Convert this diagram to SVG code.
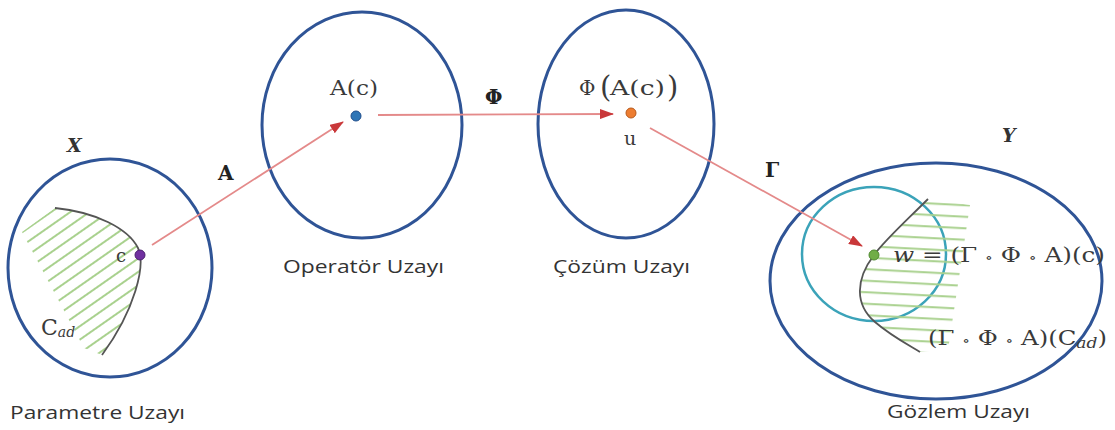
<svg xmlns="http://www.w3.org/2000/svg" width="1115" height="430" viewBox="0 0 1115 430">
<style>
.space{fill:none;stroke:#2F5496;stroke-width:3}
.curve{fill:none;stroke:#555;stroke-width:1.8}
.arr{fill:none;stroke:#E48A8A;stroke-width:1.8}
.lbl{font-family:"Open Sans","Liberation Sans",sans-serif;font-size:18px;fill:#333}
.m{font-family:"DejaVu Serif","Liberation Serif",serif;font-size:20px;fill:#3a3a3a}
.mb{font-family:"DejaVu Serif","Liberation Serif",serif;font-size:20px;font-weight:bold;fill:#222}
.mi{font-family:"DejaVu Serif","Liberation Serif",serif;font-size:19px;font-style:italic;font-weight:bold;fill:#333}
.o{font-size:13px}
.sub{font-style:italic;font-size:14px}
.big{font-size:29px}
</style>
<defs>
<marker id="ah" viewBox="0 0 14 10" refX="13" refY="5" markerWidth="14" markerHeight="10" markerUnits="userSpaceOnUse" orient="auto">
<path d="M0,0 L14,5 L0,10 Z" fill="#C9383A"/>
</marker>
<pattern id="hx" width="20" height="11" patternUnits="userSpaceOnUse" patternTransform="rotate(-35)">
<line x1="0" y1="5" x2="20" y2="5" stroke="#A9D18E" stroke-width="2"/>
</pattern>
<pattern id="hy" width="20" height="11.5" patternUnits="userSpaceOnUse" patternTransform="rotate(3)">
<line x1="0" y1="5" x2="20" y2="5" stroke="#A9D18E" stroke-width="2"/>
</pattern>
</defs>

<g id="param">
<ellipse class="space" cx="110" cy="268" rx="102" ry="109"/>
<path d="M55,208 C95,212 128,228 138,248 C146,265 135,310 102,355 L84,348 L22,232 Z" fill="url(#hx)"/>
<path class="curve" d="M55,208 C95,212 128,228 138,248 C146,265 135,310 102,355"/>
<circle cx="140" cy="255" r="5" fill="#7030A0" stroke="#4B2070" stroke-width="1"/>
<text class="m" x="116" y="262" style="font-size:18px">c</text>
<text class="m" x="41" y="335" style="font-size:22px">C<tspan class="sub" dy="2">ad</tspan></text>
<text class="mi" x="67" y="152">X</text>
<text class="lbl" x="10" y="419" textLength="175" lengthAdjust="spacingAndGlyphs">Parametre Uzayı</text>
</g>

<g id="operator">
<ellipse class="space" cx="362" cy="125" rx="100" ry="113"/>
<circle cx="356" cy="116" r="5" fill="#2E75B6" stroke="#1F4E8C" stroke-width="1"/>
<text class="m" x="330" y="95" textLength="48" lengthAdjust="spacingAndGlyphs">A(c)</text>
<text class="lbl" x="283" y="273" textLength="161" lengthAdjust="spacingAndGlyphs">Operatör Uzayı</text>
</g>

<g id="cozum">
<ellipse class="space" cx="626" cy="124" rx="88" ry="114"/>
<circle cx="631" cy="113" r="5" fill="#ED7D31" stroke="#B85A1C" stroke-width="1"/>
<text class="m" x="579" y="95">Φ</text>
<text class="m big" x="600" y="97">(</text>
<text class="m" x="610" y="95" textLength="55" lengthAdjust="spacingAndGlyphs">A(c)</text>
<text class="m big" x="667" y="97">)</text>
<text class="m" x="624" y="145" style="font-size:19px">u</text>
<text class="lbl" x="553" y="273" textLength="137" lengthAdjust="spacingAndGlyphs">Çözüm Uzayı</text>
</g>

<g id="gozlem">
<ellipse class="space" cx="936" cy="281" rx="166" ry="118"/>
<ellipse cx="874" cy="254" rx="72" ry="67" fill="none" stroke="#3BA3B9" stroke-width="2.5"/>
<path d="M928,199 C905,222 885,240 874,255 C855,280 855,305 875,322 C890,335 905,343 920,352 L948,350 L970,205 Z" fill="url(#hy)"/>
<path class="curve" d="M928,199 C905,222 885,240 874,255 C855,280 855,305 875,322 C890,335 905,343 920,352"/>
<circle cx="874" cy="255" r="5" fill="#70AD47" stroke="#4E8A2E" stroke-width="1"/>
<text class="m" x="893" y="262" textLength="212" lengthAdjust="spacingAndGlyphs"><tspan font-style="italic">w</tspan> = (Γ <tspan class="o">∘</tspan> Φ <tspan class="o">∘</tspan> A)(c)</text>
<text class="m" x="928" y="345" textLength="179" lengthAdjust="spacingAndGlyphs">(Γ <tspan class="o">∘</tspan> Φ <tspan class="o">∘</tspan> A)(C<tspan class="sub" dy="3">ad</tspan><tspan dy="-3">)</tspan></text>
<text class="mi" x="1002" y="142">Y</text>
<text class="lbl" x="887" y="418" textLength="143" lengthAdjust="spacingAndGlyphs">Gözlem Uzayı</text>
</g>

<g id="connectors">
<line class="arr" x1="152" y1="245" x2="343" y2="122" marker-end="url(#ah)"/>
<line class="arr" x1="378" y1="115" x2="613" y2="114" marker-end="url(#ah)"/>
<line class="arr" x1="650" y1="128" x2="862" y2="246" marker-end="url(#ah)"/>
<text class="mb" x="218" y="180">A</text>
<text class="mb" x="485" y="104">Φ</text>
<text class="mb" x="765" y="177">Γ</text>
</g>
</svg>
